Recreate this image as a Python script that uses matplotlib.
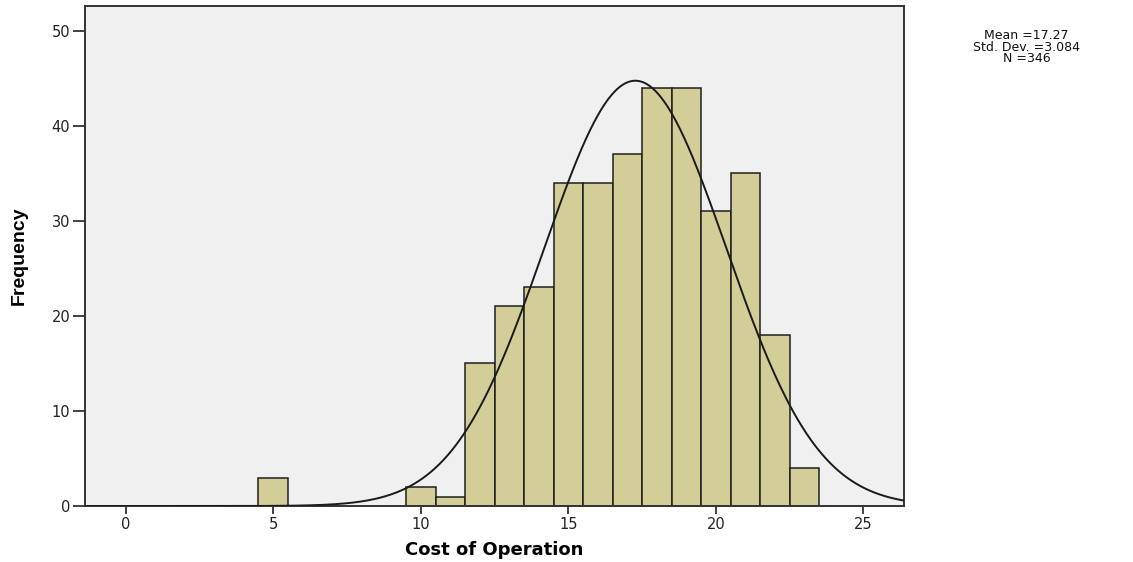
import numpy as np
import matplotlib
matplotlib.use("Agg")
import matplotlib.pyplot as plt

plt.rcParams["font.family"] = ["DejaVu Sans"]

# bin centres (width 1) and counts
bin_centers = [5, 10, 11, 12, 13, 14, 15, 16, 17, 18, 19, 20, 21, 22, 23]
counts = [3, 2, 1, 15, 21, 23, 34, 34, 37, 44, 44, 31, 35, 18, 4]
mean, std, n = 17.27, 3.084, 346
x_ticks = [0, 5, 10, 15, 20, 25]
y_ticks = [0, 10, 20, 30, 40, 50]

fig = plt.figure(figsize=(11.33, 5.62), dpi=100)
fig.patch.set_facecolor("white")
ax = fig.add_axes([0.075, 0.0996, 0.723, 0.8894])
ax.set_facecolor("#f0f0f0")

ax.bar(bin_centers, counts, width=1.0, color="#d3ce97", edgecolor="#1e1e1e",
       linewidth=1.1, zorder=2)

xs = np.linspace(-1.4, 26.4, 600)
ys = n * 1.0 / (std * np.sqrt(2 * np.pi)) * np.exp(-0.5 * ((xs - mean) / std) ** 2)
ax.plot(xs, ys, color="#1a1a1a", lw=1.4, zorder=3)

ax.set_xlim(-1.38, 26.38)
ax.set_ylim(0, 52.6)
ax.set_xticks(x_ticks)
ax.set_yticks(y_ticks)
ax.tick_params(axis="y", direction="out", length=9, width=1.3, color="#333333",
               labelsize=10.5, labelcolor="#222222", pad=1.5)
ax.tick_params(axis="x", direction="out", length=5.5, width=1.3, color="#333333",
               labelsize=10.5, labelcolor="#222222", pad=2.5)
for s in ax.spines.values():
    s.set_color("#333333")
    s.set_linewidth(1.4)

ax.set_xlabel("Cost of Operation", fontsize=13, fontweight="bold")
ax.xaxis.set_label_coords(0.5, -0.088)
ax.xaxis.label.set_va("center")
ax.set_ylabel("Frequency", fontsize=14, fontweight="bold",
              family=["Liberation Sans Narrow", "Liberation Sans"])
ax.yaxis.set_label_coords(-0.0806, 0.5)
ax.yaxis.label.set_va("center")

fig.text(0.906, 0.916, f"Mean ={mean}\nStd. Dev. ={std}\nN ={n}",
         ha="center", va="center", fontsize=9, linespacing=0.87, color="#111111")

fig.savefig("out.png", dpi=100)
